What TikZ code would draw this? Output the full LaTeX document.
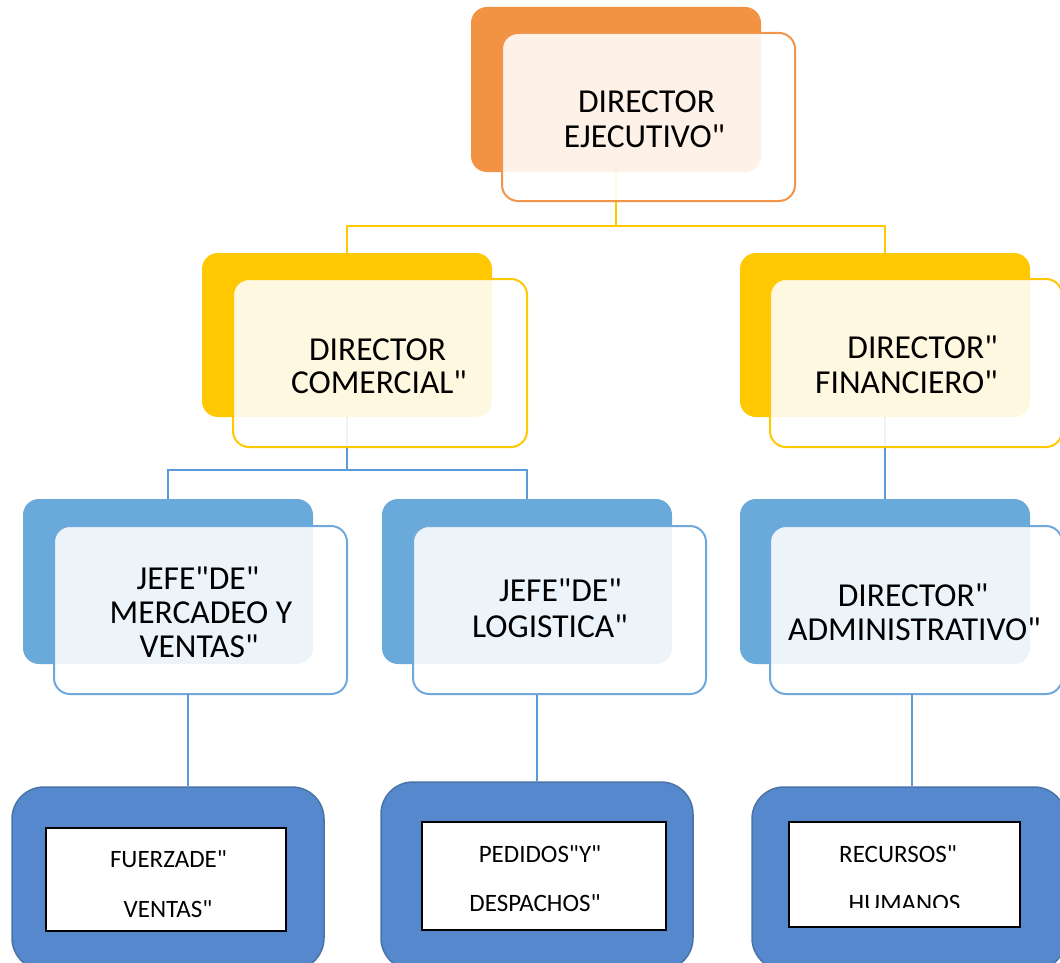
\documentclass[tikz,border=0pt]{standalone}
\usepackage{fontspec}
\setmainfont{Carlito}
\newcommand{\dqt}{\textquotedbl{}}
\definecolor{orangeB}{HTML}{F29343}
\definecolor{orangeL}{HTML}{F0954A}
\definecolor{goldB}{HTML}{FFC800}
\definecolor{blueB}{HTML}{6AAADB}
\definecolor{blueL}{HTML}{6FA8DC}
\definecolor{blueD}{HTML}{5588CD}
\definecolor{blueDE}{HTML}{4A74A8}
\definecolor{lineB}{HTML}{5B9BD5}
\tikzset{
  backbox/.style={rectangle, rounded corners=16pt, inner sep=0pt, draw=none},
  frontbox/.style={rectangle, rounded corners=16pt, inner sep=0pt, line width=2pt, fill=white, fill opacity=0.88},
  outerbox/.style={rectangle, rounded corners=32pt, inner sep=0pt, fill=blueD, draw=blueDE, line width=1.5pt},
  innerbox/.style={rectangle, inner sep=0pt, fill=white, draw=black, line width=2pt},
  bigtxt/.style={inner sep=0pt, anchor=base, font=\fontsize{33.5}{33.5}\selectfont},
  smalltxt/.style={inner sep=0pt, anchor=base, font=\fontsize{25}{25}\selectfont},
  yline/.style={draw=goldB, line width=2pt},
  bline/.style={draw=lineB, line width=2pt},
  tline/.style={draw=lineB, line width=1.2pt}
}
\begin{document}
\begin{tikzpicture}[x=1pt,y=-1pt]
\useasboundingbox[fill=white] (0,0) rectangle (1060,963);
% back boxes
\node[backbox, fill=orangeB, minimum width=290pt, minimum height=165pt] (eb) at (616,89.5) {};
\node[backbox, fill=goldB, minimum width=290pt, minimum height=164pt] (ylb) at (347,335) {};
\node[backbox, fill=goldB, minimum width=290pt, minimum height=164pt] (yrb) at (885,335) {};
\node[backbox, fill=blueB, minimum width=290pt, minimum height=165pt] (blb) at (168,581.5) {};
\node[backbox, fill=blueB, minimum width=290pt, minimum height=165pt] (bmb) at (527,581.5) {};
\node[backbox, fill=blueB, minimum width=290pt, minimum height=165pt] (brb) at (885,581.5) {};
% connectors
\coordinate (j1) at (616,226);
\coordinate (j2) at (347,470);
\draw[yline] (eb.south) -- (j1);
\draw[yline] (ylb.north) |- (j1) -| (yrb.north);
\draw[bline] (ylb.south) -- (j2);
\draw[bline] (blb.north) |- (j2) -| (bmb.north);
\draw[bline] (yrb.south) -- (brb.north);
% front boxes
\node[frontbox, draw=orangeL, minimum width=293pt, minimum height=168pt] (ef) at (648.5,117) {};
\node[frontbox, draw=goldB, minimum width=294pt, minimum height=168pt] (ylf) at (380,363) {};
\node[frontbox, draw=goldB, minimum width=292pt, minimum height=168pt] (yrf) at (916,363) {};
\node[frontbox, draw=blueL, minimum width=293pt, minimum height=168pt] (blf) at (200.5,610) {};
\node[frontbox, draw=blueL, minimum width=293pt, minimum height=168pt] (bmf) at (559.5,610) {};
\node[frontbox, draw=blueL, minimum width=292pt, minimum height=168pt] (brf) at (916,610) {};
% bottom boxes
\node[outerbox, minimum width=312pt, minimum height=183pt] (dlo) at (168,878.5) {};
\node[outerbox, minimum width=312pt, minimum height=188pt] (dmo) at (537,876) {};
\node[outerbox, minimum width=314pt, minimum height=183pt] (dro) at (909,878.5) {};
\node[innerbox, minimum width=240pt, minimum height=103pt] (dli) at (166,879.5) {};
\node[innerbox, minimum width=244pt, minimum height=108pt] (dmi) at (544,876) {};
\node[innerbox, minimum width=231pt, minimum height=105pt] (dri) at (904.5,874.5) {};
% level 3 to 4 connectors
\coordinate (c1) at (188,694);
\coordinate (c3) at (912,694);
\draw[tline] (c1) -- (c1 |- dlo.north);
\draw[tline] (dmo.north |- bmf.south) -- (dmo.north);
\draw[tline] (c3) -- (c3 |- dro.north);
% texts
\node[bigtxt] (t1a) at (646.5,113) {DIRECTOR};
\node[bigtxt] (t1b) at (644.5,147) {EJECUTIVO\dqt};
\node[bigtxt] (t2a) at (377.5,360) {DIRECTOR};
\node[bigtxt] (t2b) at (379,393) {COMERCIAL\dqt};
\node[bigtxt, anchor=base east] (t3a) at (998,358) {DIRECTOR\dqt};
\node[bigtxt, anchor=base east] (t3b) at (998,393) {FINANCIERO\dqt};
\node[bigtxt] (t4a) at (198,589) {JEFE\dqt DE\dqt};
\node[bigtxt] (t4b) at (201,623) {MERCADEO Y};
\node[bigtxt] (t4c) at (199,657) {VENTAS\dqt};
\node[bigtxt, anchor=base east] (t5a) at (622,601) {JEFE\dqt DE\dqt};
\node[bigtxt, anchor=base east] (t5b) at (628,637) {LOGISTICA\dqt};
\node[bigtxt] (t6a) at (913,606) {DIRECTOR\dqt};
\node[bigtxt] (t6b) at (914.5,640) {ADMINISTRATIVO\dqt};
\node[smalltxt] (t7a) at (168.5,867) {FUERZADE\dqt};
\node[smalltxt] (t7b) at (168,917) {VENTAS\dqt};
\node[smalltxt] (t8a) at (540,862) {PEDIDOS\dqt Y\dqt};
\node[smalltxt] (t8b) at (535,911) {DESPACHOS\dqt};
\node[smalltxt] (t9a) at (898,862) {RECURSOS\dqt};
\begin{scope}
\clip (780,880) rectangle (1030,907);
\node[smalltxt] (t9b) at (904.5,911) {HUMANOS};
\end{scope}
\end{tikzpicture}
\end{document}
